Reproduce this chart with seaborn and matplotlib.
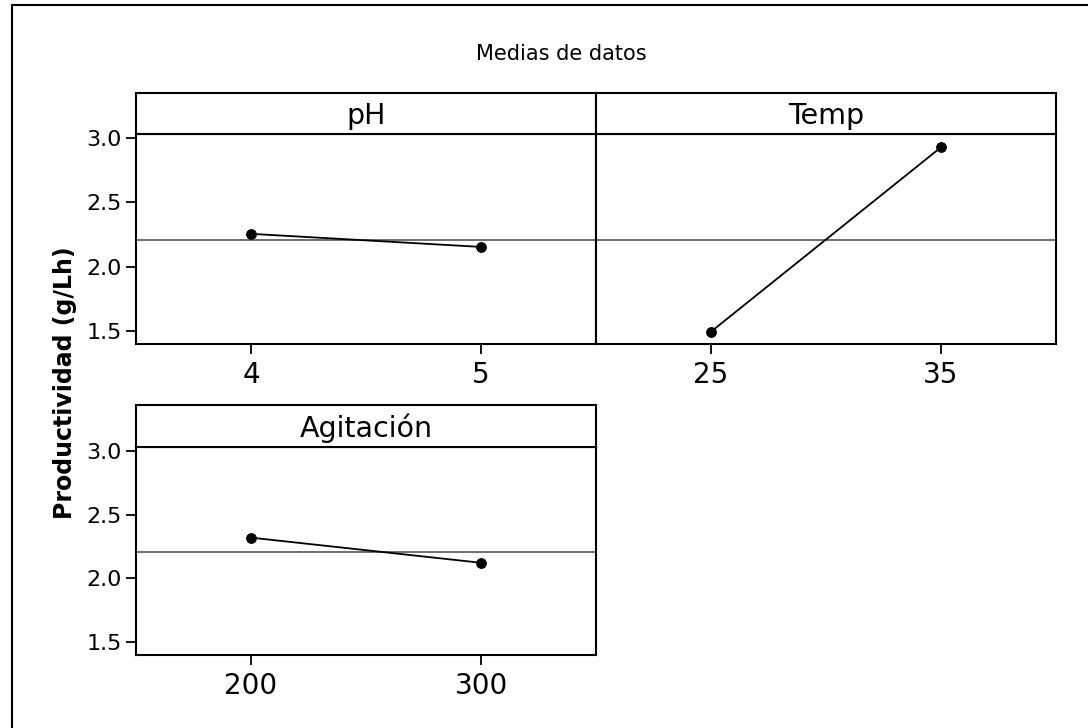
import matplotlib
matplotlib.use("Agg")
import matplotlib.pyplot as plt
import seaborn as sns
import pandas as pd
from matplotlib.lines import Line2D

sns.set_theme(style="white")
plt.rcParams['font.family'] = ['DejaVu Sans']
plt.rcParams['text.color'] = 'black'
plt.rcParams['xtick.color'] = 'black'
plt.rcParams['ytick.color'] = 'black'

# ---- data ----
factors = ["pH", "Temp", "Agitación"]
ph_levels = [4, 5]
ph_means = [2.255, 2.153]
temp_levels = [25, 35]
temp_means = [1.492, 2.93]
agit_levels = [200, 300]
agit_means = [2.32, 2.122]
grand_mean = 2.207
y_ticks = [1.5, 2.0, 2.5, 3.0]
y_tick_labels = ["1.5", "2.0", "2.5", "3.0"]
title = "Medias de datos"
ylabel = "Productividad (g/Lh)"

W, H = 1088, 728
fig = plt.figure(figsize=(W / 100, H / 100), dpi=100)
fig.patch.set_facecolor("white")

def rect(l, t, r, b):
    return [l / W, 1 - b / H, (r - l) / W, (b - t) / H]

panels = [
    dict(name=factors[0], x=ph_levels, y=ph_means, box=(136, 134, 596, 344), strip_top=93,
         xlim=(3.5, 5.5), yticks=True),
    dict(name=factors[1], x=temp_levels, y=temp_means, box=(596, 134, 1056, 344), strip_top=93,
         xlim=(20, 40), yticks=False),
    dict(name=factors[2], x=agit_levels, y=agit_means, box=(136, 447, 596, 655), strip_top=405,
         xlim=(150, 350), yticks=True),
]

for p in panels:
    l, t, r, b = p["box"]
    ax = fig.add_axes(rect(l, t, r, b))
    df = pd.DataFrame({"level": p["x"], "mean": p["y"]})
    ax.axhline(grand_mean, color="#555555", lw=1.2, zorder=1)
    sns.lineplot(data=df, x="level", y="mean", ax=ax, color="black", lw=1.3,
                 marker="o", markersize=7, markeredgecolor="black", zorder=3)
    ax.set_xlim(*p["xlim"])
    ax.set_ylim(1.396, 3.0335)
    ax.set_xticks(p["x"])
    ax.set_xticklabels([str(v) for v in p["x"]], fontsize=20, color="black")
    ax.set_xlabel("")
    ax.set_ylabel("")
    if p["yticks"]:
        ax.set_yticks(y_ticks)
        ax.set_yticklabels(y_tick_labels, fontsize=16, color="black")
    else:
        ax.set_yticks([])
    ax.tick_params(axis="both", direction="out", length=7, width=1.3, color="black",
                   labelcolor="black", left=p["yticks"], bottom=True, pad=3)
    ax.tick_params(axis="x", pad=5)
    for s in ax.spines.values():
        s.set_color("black")
        s.set_linewidth(1.5)
    ax.set_facecolor("white")
    # strip
    sax = fig.add_axes(rect(l, p["strip_top"], r, t))
    sax.set_xticks([]); sax.set_yticks([])
    for s in sax.spines.values():
        s.set_color("black")
        s.set_linewidth(1.5)
    sax.set_facecolor("white")
    sax.text(0.5, 0.45, p["name"], ha="center", va="center", fontsize=20.5,
             transform=sax.transAxes, color="black")

fig.text(561 / W, 1 - 54 / H, title, ha="center", va="center", fontsize=15, color="black")
fig.text(65 / W, 1 - 383 / H, ylabel, ha="center", va="center", rotation=90,
         fontsize=17, fontweight="bold", color="black")

# outer frame (left and top edges)
fig.add_artist(Line2D([12 / W, 12 / W], [0, 1 - 5 / H], color="black", lw=1.5, transform=fig.transFigure))
fig.add_artist(Line2D([12 / W, 1.0], [1 - 5 / H, 1 - 5 / H], color="black", lw=1.5, transform=fig.transFigure))

fig.savefig("out.png", dpi=100, facecolor="white")
